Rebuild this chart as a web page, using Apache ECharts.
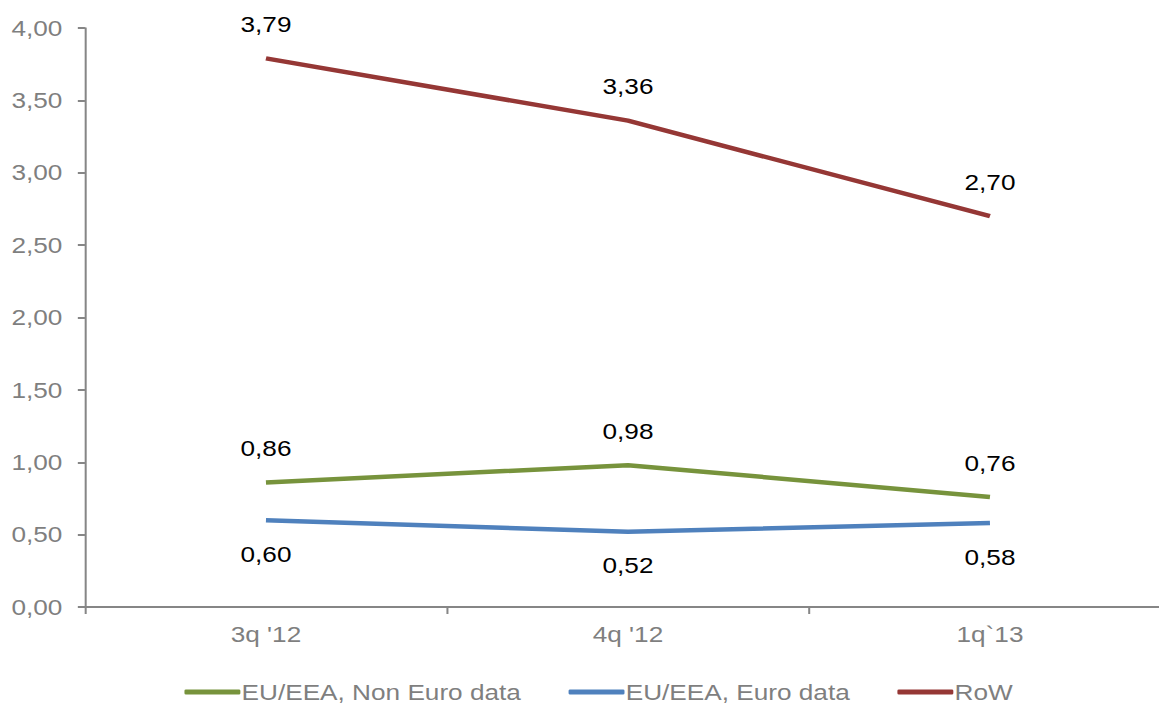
<!DOCTYPE html>
<html>
<head>
<meta charset="utf-8">
<script src="https://cdn.jsdelivr.net/npm/echarts@6/dist/echarts.min.js"></script>
<style>
  html, body { margin: 0; padding: 0; background: #fff; overflow: hidden; }
  /* The chart is laid out narrower and widened horizontally, giving the broad lettering of the layout */
  #chart { width: 974px; height: 709px; transform: scaleX(1.19); transform-origin: 0 0; }
</style>
</head>
<body>
<div id="chart"></div>
<script>
const categories = ["3q '12", "4q '12", "1q`13"];
const nonEuroData = [0.86, 0.98, 0.76];
const euroData = [0.60, 0.52, 0.58];
const rowData = [3.79, 3.36, 2.70];
const seriesNames = ['EU/EEA, Non Euro data', 'EU/EEA, Euro data', 'RoW'];
const seriesColors = ['#77933C', '#4F81BD', '#953735'];
const yTicks = { min: 0, max: 4, interval: 0.5 };

const fmt = v => Number(v).toFixed(2).replace('.', ',');
const axisGray = '#868686';
const textGray = '#7f7f7f';
const font = 'Liberation Sans, Arial, sans-serif';

function makeSeries(name, data, color, pos) {
  return {
    name: name,
    type: 'line',
    data: data,
    symbol: 'circle',
    symbolSize: 0,
    showSymbol: true,
    lineStyle: { color: color, width: 4.5 },
    itemStyle: { color: color },
    label: {
      show: true,
      position: pos,
      distance: 23,
      color: '#000',
      fontSize: 22,
      fontFamily: font,
      formatter: p => fmt(p.value)
    },
    emphasis: { disabled: true }
  };
}

const chart = echarts.init(document.getElementById('chart'), null, { renderer: 'svg' });
chart.setOption({
  animation: false,
  backgroundColor: '#fff',
  grid: {
    left: 71.4, width: 912.6, top: 28, bottom: 102,
    containLabel: false, outerBoundsMode: 'none'
  },
  legend: {
    bottom: 1,
    left: 150,
    itemWidth: 47,
    itemHeight: 5,
    itemGap: 40,
    icon: 'roundRect',
    textStyle: { color: textGray, fontSize: 22, fontFamily: font, padding: [0, 0, 0, -4] },
    data: seriesNames
  },
  xAxis: {
    type: 'category',
    data: categories,
    boundaryGap: true,
    axisLine: { lineStyle: { color: axisGray, width: 2 } },
    axisTick: { show: true, length: 7, lineStyle: { color: axisGray, width: 1.7 } },
    axisLabel: { color: textGray, fontSize: 22, fontFamily: font, margin: 16 }
  },
  yAxis: {
    type: 'value',
    min: yTicks.min,
    max: yTicks.max,
    interval: yTicks.interval,
    splitLine: { show: false },
    axisLine: { show: true, lineStyle: { color: axisGray, width: 1.7 } },
    axisTick: { show: true, length: 6, lineStyle: { color: axisGray, width: 2 } },
    axisLabel: { color: textGray, fontSize: 22, fontFamily: font, margin: 19, formatter: fmt }
  },
  series: [
    makeSeries(seriesNames[0], nonEuroData, seriesColors[0], 'top'),
    makeSeries(seriesNames[1], euroData, seriesColors[1], 'bottom'),
    makeSeries(seriesNames[2], rowData, seriesColors[2], 'top')
  ]
});
</script>
</body>
</html>
